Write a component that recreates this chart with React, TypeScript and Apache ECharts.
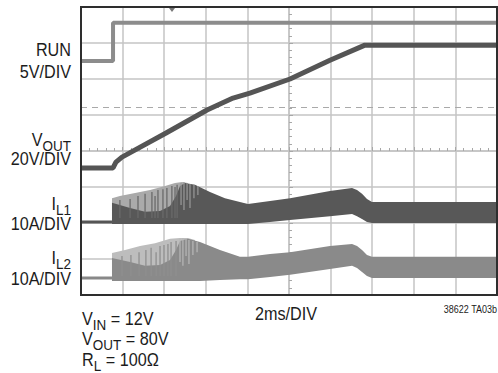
import React, { useEffect, useRef } from "react";
import * as echarts from "echarts";

// time axis: ms relative to screen centre (2 ms/DIV), vertical axis: divisions from centre
const RUN_T = [-10, -8.46, -8.46, 10];
const RUN_V = [2.5, 2.5, 3.56, 3.56];

const VOUT_T = [-10, -8.46, -8.32, -8.03, -5.91, -3.94, -2.69, -1.88, 0.05, 1.97, 3.65, 10];
const VOUT_V = [-0.47, -0.47, -0.31, -0.17, 0.5, 1.14, 1.47, 1.61, 2.0, 2.52, 2.94, 2.94];

const IL1_BASE_T = [-10, -8.51];
const IL1_BASE_V = [-1.97, -1.97];
const IL1_ENV_T = [-8.51, -8.13, -7.4, -6.68, -5.96, -5.48, -5.14, -4.86];
const IL1_ENV_TOP = [-1.31, -1.25, -1.17, -1.08, -0.97, -0.89, -0.86, -0.89];
const IL1_ENV_BOT = [-2.03, -2.03, -2.03, -2.03, -2.03, -2.03, -2.03, -2.03];
const IL1_T = [-8.51, -7.64, -6.92, -6.2, -5.72, -5.43, -5.24, -5.0, -4.52, -3.8, -3.08, -2.36, -1.97, -0.91, 0.05, 1.97, 3.03, 3.27, 3.51, 3.75, 3.99, 10];
const IL1_TOP = [-1.44, -1.58, -1.69, -1.67, -1.53, -1.25, -0.97, -0.89, -0.94, -1.14, -1.31, -1.42, -1.47, -1.39, -1.31, -1.11, -1.03, -1.08, -1.19, -1.33, -1.42, -1.42];
const IL1_BOT = [-2.03, -2.03, -2.03, -2.03, -2.03, -2.03, -2.03, -2.03, -2.03, -2.03, -2.03, -2.03, -2.03, -1.97, -1.92, -1.81, -1.75, -1.81, -1.89, -1.97, -2.0, -2.0];
const IL1_SPIKE_T = [-8.13, -7.64, -7.26, -6.92, -6.59, -6.44, -6.3, -6.06, -5.87, -5.63, -5.48, -5.38];
const IL1_SPIKE_TOP = [-1.36, -1.33, -1.25, -1.19, -1.14, -1.25, -1.08, -1.06, -1.03, -0.97, -1.0, -0.94];
const IL1_SPIKE_BOT = [-1.86, -1.86, -1.86, -1.86, -1.86, -1.86, -1.86, -1.86, -1.86, -1.86, -1.86, -1.86];
const IL1_LSPIKE_T = [-5.19, -5.05, -4.9, -4.76, -4.57, -4.38];
const IL1_LSPIKE_TOP = [-0.89, -0.86, -0.89, -0.92, -0.94, -0.97];
const IL1_LSPIKE_BOT = [-1.5, -1.64, -1.36, -1.58, -1.31, -1.22];

const IL2_BASE_T = [-10, -8.51];
const IL2_BASE_V = [-3.53, -3.53];
const IL2_ENV_T = [-8.51, -7.88, -7.16, -6.44, -5.72, -5.24, -4.86, -4.52];
const IL2_ENV_TOP = [-2.83, -2.75, -2.64, -2.56, -2.44, -2.42, -2.42, -2.47];
const IL2_ENV_BOT = [-3.61, -3.61, -3.61, -3.61, -3.61, -3.61, -3.61, -3.61];
const IL2_T = [-8.51, -7.64, -6.92, -6.2, -5.72, -5.43, -5.24, -4.86, -4.28, -3.32, -2.36, -1.97, -0.91, 0.05, 1.97, 3.03, 3.27, 3.51, 3.75, 3.99, 10];
const IL2_TOP = [-2.97, -3.08, -3.19, -3.17, -3.03, -2.75, -2.5, -2.44, -2.53, -2.75, -2.94, -2.94, -2.86, -2.81, -2.64, -2.58, -2.64, -2.75, -2.89, -2.94, -2.94];
const IL2_BOT = [-3.61, -3.61, -3.61, -3.61, -3.61, -3.61, -3.61, -3.61, -3.61, -3.58, -3.56, -3.56, -3.5, -3.44, -3.28, -3.19, -3.25, -3.36, -3.47, -3.53, -3.53];
const IL2_SPIKE_T = [-8.03, -7.6, -7.21, -6.88, -6.63, -6.39, -6.2, -6.01, -5.82, -5.67, -5.43];
const IL2_SPIKE_TOP = [-2.92, -2.89, -2.81, -2.75, -2.69, -2.81, -2.64, -2.61, -2.58, -2.53, -2.5];
const IL2_SPIKE_BOT = [-3.47, -3.47, -3.47, -3.47, -3.47, -3.47, -3.47, -3.47, -3.47, -3.47, -3.47];
const IL2_LSPIKE_T = [-5.24, -5.1, -4.95, -4.81, -4.62, -4.42];
const IL2_LSPIKE_TOP = [-2.44, -2.42, -2.44, -2.47, -2.5, -2.53];
const IL2_LSPIKE_BOT = [-3.08, -3.19, -2.92, -3.14, -2.89, -2.81];

const DASH_LEVEL = 1.22;

const FONT = '"Liberation Sans", Arial, Helvetica, sans-serif';
const TXT = "#1c1c1c";

const pairs = (t: number[], v: number[]) => t.map((x, i) => [x, v[i]]);

const bandSeries = (xs: number[], tops: number[], bots: number[], color: string, z: number) => ({
  type: "custom",
  coordinateSystem: "cartesian2d",
  silent: true,
  z,
  data: [[xs[0], tops[0]]],
  renderItem: (_p: any, api: any) => {
    const pts: number[][] = [];
    for (let i = 0; i < xs.length; i++) pts.push(api.coord([xs[i], tops[i]]));
    for (let i = xs.length - 1; i >= 0; i--) pts.push(api.coord([xs[i], bots[i]]));
    return { type: "polygon", shape: { points: pts }, style: { fill: color } };
  },
});

const spikeSeries = (xs: number[], tops: number[], bots: number[], color: string, w: number, z: number) => ({
  type: "custom",
  coordinateSystem: "cartesian2d",
  silent: true,
  z,
  data: xs.map((x, i) => [x, tops[i], bots[i]]),
  encode: { x: 0, y: 1 },
  renderItem: (_p: any, api: any) => {
    const a = api.coord([api.value(0), api.value(1)]);
    const b = api.coord([api.value(0), api.value(2)]);
    return {
      type: "line",
      shape: { x1: a[0], y1: a[1], x2: b[0], y2: b[1] },
      style: { stroke: color, lineWidth: w },
    };
  },
});

const lineSeries = (t: number[], v: number[], color: string, w: number, z: number, extra: any = {}) => ({
  type: "line",
  data: pairs(t, v),
  symbol: "none",
  silent: true,
  z,
  lineStyle: { color, width: w },
  ...extra,
});

const txt = (x: number, y: number, text: string, size: number, align: string, extra: any = {}) => ({
  type: "text",
  x,
  y,
  scaleX: 0.9,
  z: 200,
  style: {
    text,
    fontFamily: FONT,
    fontSize: size,
    fill: TXT,
    align,
    verticalAlign: "middle",
    ...extra,
  },
});

const subRich = {
  m: { fontSize: 18, fontFamily: FONT, fill: TXT, padding: [0, 0, 4, 0], verticalAlign: "bottom" },
  s: { fontSize: 15, fontFamily: FONT, fill: TXT, verticalAlign: "bottom" },
};

export default function App() {
  const ref = useRef<HTMLDivElement>(null);
  useEffect(() => {
    const chart = echarts.init(ref.current!, null, { renderer: "svg" });
    const gridColor = "#c4c4c4";
    chart.setOption({
      animation: false,
      backgroundColor: "#ffffff",
      grid: { left: 81, top: 7, width: 416, height: 288, show: false },
      xAxis: {
        type: "value",
        min: -10,
        max: 10,
        interval: 2,
        axisLabel: { show: false },
        axisLine: { show: true, onZero: true, lineStyle: { color: gridColor, width: 1.5 } },
        axisTick: { show: true, length: 4, inside: true, lineStyle: { color: "#a8a8a8" } },
        minorTick: { show: true, splitNumber: 5, length: 3, lineStyle: { color: "#a8a8a8" } },
        splitLine: { show: true, showMinLine: false, showMaxLine: false, lineStyle: { color: gridColor, width: 1.5 } },
      },
      yAxis: {
        type: "value",
        min: -4,
        max: 4,
        interval: 1,
        axisLabel: { show: false },
        axisLine: { show: true, onZero: true, lineStyle: { color: gridColor, width: 1.5 } },
        axisTick: { show: true, length: 4, inside: true, lineStyle: { color: "#a8a8a8" } },
        minorTick: { show: true, splitNumber: 5, length: 3, lineStyle: { color: "#a8a8a8" } },
        splitLine: { show: true, showMinLine: false, showMaxLine: false, lineStyle: { color: gridColor, width: 1.5 } },
      },
      series: [
        lineSeries(RUN_T, RUN_V, "#8c8c8c", 4, 5, {
          markLine: {
            silent: true,
            symbol: "none",
            label: { show: false },
            lineStyle: { color: "#a9a9a9", type: [6, 5], width: 1.2 },
            data: [{ yAxis: DASH_LEVEL }],
          },
        }),
        lineSeries(VOUT_T, VOUT_V, "#555555", 5, 6),
        lineSeries(IL1_BASE_T, IL1_BASE_V, "#555555", 3, 4),
        bandSeries(IL1_ENV_T, IL1_ENV_TOP, IL1_ENV_BOT, "#aaaaaa", 3),
        bandSeries(IL1_T, IL1_TOP, IL1_BOT, "#585858", 4),
        spikeSeries(IL1_SPIKE_T, IL1_SPIKE_TOP, IL1_SPIKE_BOT, "#6a6a6a", 1.3, 5),
        spikeSeries(IL1_LSPIKE_T, IL1_LSPIKE_TOP, IL1_LSPIKE_BOT, "#9a9a9a", 1.2, 5),
        lineSeries(IL2_BASE_T, IL2_BASE_V, "#888888", 3, 4),
        bandSeries(IL2_ENV_T, IL2_ENV_TOP, IL2_ENV_BOT, "#bdbdbd", 3),
        bandSeries(IL2_T, IL2_TOP, IL2_BOT, "#8a8a8a", 4),
        spikeSeries(IL2_SPIKE_T, IL2_SPIKE_TOP, IL2_SPIKE_BOT, "#8f8f8f", 1.3, 5),
        spikeSeries(IL2_LSPIKE_T, IL2_LSPIKE_TOP, IL2_LSPIKE_BOT, "#b8b8b8", 1.2, 5),
      ],
      graphic: [
        {
          type: "rect",
          z: 150,
          silent: true,
          shape: { x: 81, y: 7, width: 416, height: 288 },
          style: { fill: "none", stroke: "#2e2e2e", lineWidth: 2 },
        },
        {
          type: "polygon",
          z: 151,
          silent: true,
          shape: { points: [[169, 8], [175, 8], [172, 12]] },
          style: { fill: "#777777" },
        },
        txt(71, 50, "RUN", 18, "right"),
        txt(71, 72, "5V/DIV", 18, "right"),
        txt(71, 142, "{m|V}{s|OUT}", 18, "right", { rich: subRich }),
        txt(71, 159, "20V/DIV", 18, "right"),
        txt(71, 206, "{m|I}{s|L1}", 18, "right", { rich: subRich }),
        txt(71, 224, "10A/DIV", 18, "right"),
        txt(71, 260, "{m|I}{s|L2}", 18, "right", { rich: subRich }),
        txt(71, 279, "10A/DIV", 18, "right"),
        txt(82, 321, "{m|V}{s|IN}{m| = 12V}", 18, "left", { rich: subRich }),
        txt(82, 341, "{m|V}{s|OUT}{m| = 80V}", 18, "left", { rich: subRich }),
        txt(82, 362, "{m|R}{s|L}{m| = 100Ω}", 18, "left", { rich: subRich }),
        txt(255, 314, "2ms/DIV", 18, "left"),
        txt(497, 309, "38622 TA03b", 10, "right"),
      ],
    });
    return () => chart.dispose();
  }, []);
  return (
    <div
      ref={ref}
      style={{ position: "fixed", left: 0, top: 0, width: 498, height: 373, background: "#fff" }}
    />
  );
}
